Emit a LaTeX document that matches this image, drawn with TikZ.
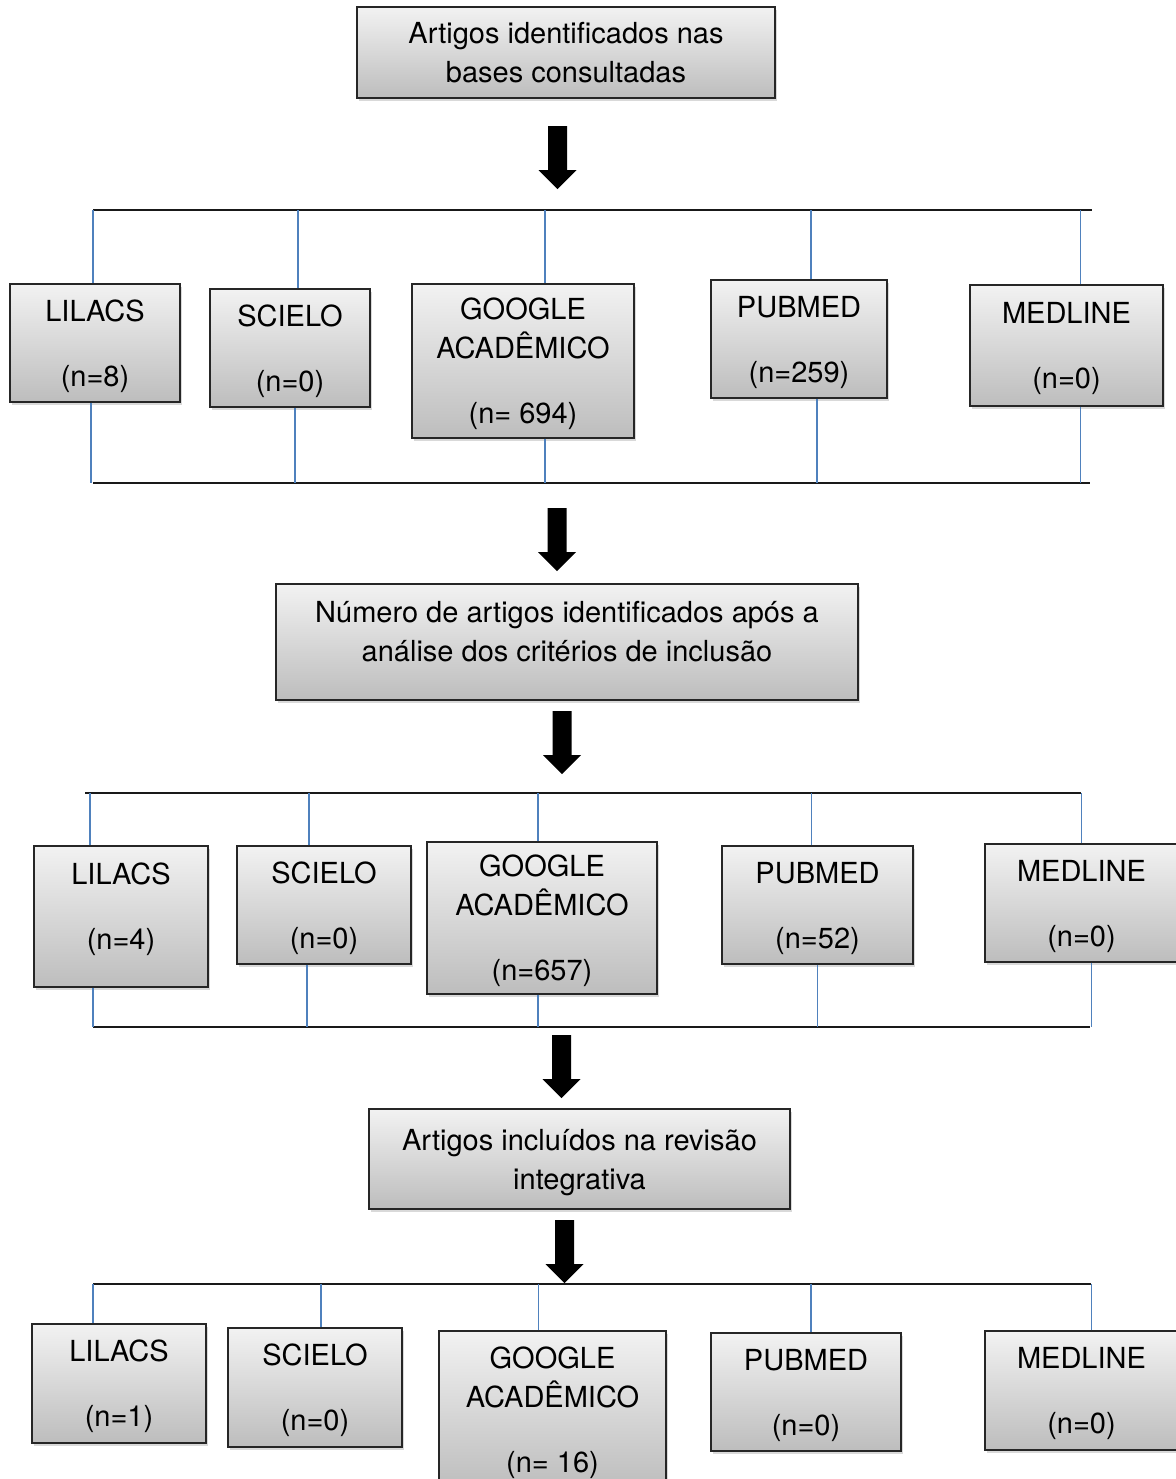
\documentclass[tikz,border=0pt]{standalone}
\usepackage{fontspec}
\setmainfont{TeX Gyre Heros}
\usepackage{tikz}
\usetikzlibrary{
    shadows,
    positioning
}
\definecolor{flowblue}{HTML}{4F81BD}
\definecolor{flowlight}{HTML}{F2F2F2}
\definecolor{flowdark}{HTML}{BDBDBD}
\tikzset{
    % Shaded database box
    dbbox/.style={
        rectangle,
        draw=black!85,
        line width=0.7pt,
        top color=flowlight,
        bottom color=flowdark,
        drop shadow={shadow xshift=0.8pt, shadow yshift=-1.5pt, opacity=0.3},
        font=\fontsize{14.5}{19.5}\selectfont,
        align=center,
        text depth=0pt,
        inner sep=2pt
    },
    % Stage box
    stagebox/.style={
        dbbox
    },
    % Black bus line
    busline/.style={
        draw=black!90,
        line width=1pt
    },
    % Blue tie line
    tieline/.style={
        draw=flowblue,
        line width=0.75pt
    },
    % Block arrow
    bigarrow/.pic={
        \fill[black] (-9.5,0) -- (9.5,0) -- (9.5,44) -- (19,44) -- (0,63) -- (-19,44) -- (-9.5,44) -- cycle;
    }
}

\begin{document}
\begin{tikzpicture}[x=0.5pt, y=-0.5pt]

    \useasboundingbox (0,0) rectangle (1176,1479);

    % Stages
    \node[stagebox, minimum width=209pt, minimum height=45.5pt] (found) at (566,52.5) {Artigos identificados nas\\bases consultadas};
    \node[stagebox, minimum width=291pt, minimum height=58pt, text depth=11pt] (crit) at (567,642) {Número de artigos identificados após a\\análise dos critérios de inclusão};
    \node[stagebox, minimum width=210.5pt, minimum height=50pt] (incl) at (579.5,1159) {Artigos incluídos na revisão\\integrativa};

    % Bus coordinates
    \coordinate (bus1w) at (93,210);   \coordinate (bus1e) at (1092,210);
    \coordinate (bus2w) at (93,483);   \coordinate (bus2e) at (1090,483);
    \coordinate (bus3w) at (85,793);   \coordinate (bus3e) at (1081,793);
    \coordinate (bus4w) at (93,1027);  \coordinate (bus4e) at (1090,1027);
    \coordinate (bus5w) at (93,1284);  \coordinate (bus5e) at (1091,1284);

    % First row
    \node[dbbox, minimum width=85pt, minimum height=59pt] (lil1) at (95,343) {LILACS\\[13pt](n=8)};
    \node[dbbox, minimum width=80pt, minimum height=59pt] (sci1) at (290,348) {SCIELO\\[13pt](n=0)};
    \node[dbbox, minimum width=111pt, minimum height=77pt] (goo1) at (523,361) {GOOGLE\\ACADÊMICO\\[13pt](n= 694)};
    \node[dbbox, minimum width=88pt, minimum height=59pt] (pub1) at (799,339) {PUBMED\\[13pt](n=259)};
    \node[dbbox, minimum width=96.5pt, minimum height=60.5pt] (med1) at (1066.5,345.5) {MEDLINE\\[13pt](n=0)};

    % Second row
    \node[dbbox, minimum width=87pt, minimum height=70.5pt, text depth=10.5pt] (lil2) at (121,916.5) {LILACS\\[13pt](n=4)};
    \node[dbbox, minimum width=87pt, minimum height=59pt] (sci2) at (324,905) {SCIELO\\[13pt](n=0)};
    \node[dbbox, minimum width=115pt, minimum height=76pt] (goo2) at (542,918) {GOOGLE\\ACADÊMICO\\[13pt](n=657)};
    \node[dbbox, minimum width=95.5pt, minimum height=59pt] (pub2) at (817.5,905) {PUBMED\\[13pt](n=52)};
    \node[dbbox, minimum width=96.5pt, minimum height=59pt] (med2) at (1081.5,903) {MEDLINE\\[13pt](n=0)};

    % Third row
    \node[dbbox, minimum width=87pt, minimum height=59.5pt] (lil3) at (119,1383.5) {LILACS\\[13pt](n=1)};
    \node[dbbox, minimum width=87pt, minimum height=59.5pt] (sci3) at (315,1387.5) {SCIELO\\[13pt](n=0)};
    \node[dbbox, minimum width=113.5pt, minimum height=79pt] (goo3) at (552.5,1410) {GOOGLE\\ACADÊMICO\\[13pt](n= 16)};
    \node[dbbox, minimum width=95pt, minimum height=59pt] (pub3) at (806,1392) {PUBMED\\[13pt](n=0)};
    \node[dbbox, minimum width=96.5pt, minimum height=59.5pt] (med3) at (1081.5,1390.5) {MEDLINE\\[13pt](n=0)};

    % Bus lines
    \draw[busline] (bus1w) -- (bus1e);
    \draw[busline] (bus2w) -- (bus2e);
    \draw[busline] (bus3w) -- (bus3e);
    \draw[busline] (bus4w) -- (bus4e);
    \draw[busline] (bus5w) -- (bus5e);

    % Ties of the first row
    \draw[tieline] ([xshift=-1pt]lil1.north) -- ([xshift=-1pt]lil1.north |- bus1w) ([xshift=-2pt]lil1.south) -- ([xshift=-2pt]lil1.south |- bus2w);
    \draw[tieline] ([xshift=4pt]sci1.north) -- ([xshift=4pt]sci1.north |- bus1w) ([xshift=2.5pt]sci1.south) -- ([xshift=2.5pt]sci1.south |- bus2w);
    \draw[tieline] ([xshift=11pt]goo1.north) -- ([xshift=11pt]goo1.north |- bus1w) ([xshift=11pt]goo1.south) -- ([xshift=11pt]goo1.south |- bus2w);
    \draw[tieline] ([xshift=6pt]pub1.north) -- ([xshift=6pt]pub1.north |- bus1w) ([xshift=9pt]pub1.south) -- ([xshift=9pt]pub1.south |- bus2w);
    \draw[tieline] ([xshift=7pt]med1.north) -- ([xshift=7pt]med1.north |- bus1w) ([xshift=7pt]med1.south) -- ([xshift=7pt]med1.south |- bus2w);

    % Ties of the second row
    \draw[tieline] ([xshift=-15.5pt]lil2.north) -- ([xshift=-15.5pt]lil2.north |- bus3w) ([xshift=-14pt]lil2.south) -- ([xshift=-14pt]lil2.south |- bus4w);
    \draw[tieline] ([xshift=-7.5pt]sci2.north) -- ([xshift=-7.5pt]sci2.north |- bus3w) ([xshift=-8.5pt]sci2.south) -- ([xshift=-8.5pt]sci2.south |- bus4w);
    \draw[tieline] ([xshift=-2pt]goo2.north) -- ([xshift=-2pt]goo2.north |- bus3w) ([xshift=-2pt]goo2.south) -- ([xshift=-2pt]goo2.south |- bus4w);
    \draw[tieline] ([xshift=-3pt]pub2.north) -- ([xshift=-3pt]pub2.north |- bus3w) (pub2.south) -- (pub2.south |- bus4w);
    \draw[tieline] (med2.north) -- (med2.north |- bus3w) ([xshift=5pt]med2.south) -- ([xshift=5pt]med2.south |- bus4w);

    % Ties of the third row
    \draw[tieline] ([xshift=-13pt]lil3.north) -- ([xshift=-13pt]lil3.north |- bus5w);
    \draw[tieline] ([xshift=3pt]sci3.north) -- ([xshift=3pt]sci3.north |- bus5w);
    \draw[tieline] ([xshift=-7pt]goo3.north) -- ([xshift=-7pt]goo3.north |- bus5w);
    \draw[tieline] ([xshift=2.5pt]pub3.north) -- ([xshift=2.5pt]pub3.north |- bus5w);
    \draw[tieline] ([xshift=5pt]med3.north) -- ([xshift=5pt]med3.north |- bus5w);

    % Arrows
    \pic (arr1) at (557.5,126) {bigarrow};
    \pic (arr2) at (557,508) {bigarrow};
    \pic (arr3) at (562,711) {bigarrow};
    \pic (arr4) at (561.5,1035) {bigarrow};
    \pic (arr5) at (564.5,1220) {bigarrow};

\end{tikzpicture}
\end{document}
